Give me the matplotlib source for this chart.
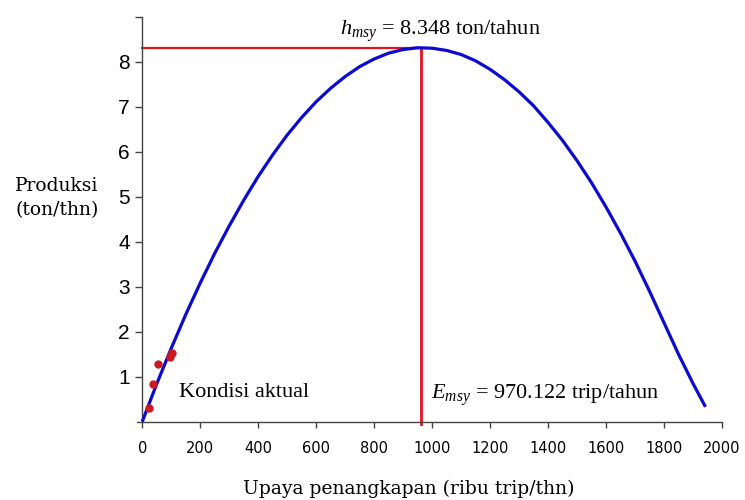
import matplotlib
matplotlib.use("Agg")
import matplotlib.pyplot as plt

# Fitted production curve
effort = [0, 50, 100, 150, 200, 250, 300, 350, 400, 450, 500, 550, 600, 650,
          700, 750, 800, 850, 900, 950, 1000, 1050, 1100, 1150, 1200, 1250,
          1300, 1350, 1400, 1450, 1500, 1550, 1600, 1650, 1700, 1750, 1800,
          1850, 1900, 1943]
production = [0, 0.84, 1.63, 2.38, 3.08, 3.74, 4.35, 4.92, 5.45, 5.93, 6.37,
              6.76, 7.11, 7.41, 7.67, 7.89, 8.06, 8.19, 8.27, 8.31, 8.30,
              8.25, 8.16, 8.02, 7.83, 7.60, 7.33, 7.02, 6.65, 6.25, 5.80,
              5.31, 4.77, 4.19, 3.57, 2.90, 2.20, 1.50, 0.85, 0.33]

# Actual conditions (observed points)
obs_effort = [24, 38, 55, 96, 103]
obs_production = [0.30, 0.83, 1.28, 1.43, 1.53]

# MSY reference lines
e_msy_line = 960
h_msy_line = 8.31

y_ticks = [1, 2, 3, 4, 5, 6, 7, 8, 9]
y_ticklabels = ["1", "2", "3", "4", "5", "6", "7", "8", ""]
x_ticks = [0, 200, 400, 600, 800, 1000, 1200, 1400, 1600, 1800, 2000]
x_ticklabels = [str(v) for v in x_ticks]

plt.rcParams['mathtext.fontset'] = 'custom'
plt.rcParams['mathtext.rm'] = 'Liberation Serif'
plt.rcParams['mathtext.it'] = 'Liberation Serif:italic'

fig = plt.figure(figsize=(7.45, 5.0), dpi=100)
ax = fig.add_axes([0.1839, 0.1566, 0.7852, 0.81])
ax.set_xlim(-18, 2000)
ax.set_ylim(0, 9)

ax.plot(effort, production, color='#0a0ad0', lw=2.3, zorder=3, clip_on=False,
        solid_capstyle='butt', solid_joinstyle='round')
ax.plot(obs_effort, obs_production, 'o', color='#cc1a22', ms=5, zorder=4,
        clip_on=False)

ax.plot([0, e_msy_line], [h_msy_line, h_msy_line], color='#e3141b', lw=1.6,
        zorder=2, clip_on=False)
ax.plot([e_msy_line, e_msy_line], [h_msy_line, -0.05], color='#e3141b', lw=2.0,
        zorder=2, clip_on=False)

for s in ['top', 'right']:
    ax.spines[s].set_visible(False)
ax.spines['left'].set_position(('data', 0))
for s in ['left', 'bottom']:
    ax.spines[s].set_color('#444444')
    ax.spines[s].set_linewidth(1.0)

ax.set_yticks(y_ticks)
ax.set_yticklabels(y_ticklabels, fontfamily='Liberation Sans', fontsize=15)
ax.set_xticks(x_ticks)
ax.set_xticklabels(x_ticklabels, fontfamily='DejaVu Sans', fontsize=10.5)
ax.tick_params(axis='y', length=5, width=1, color='#444444', pad=4)
ax.tick_params(axis='x', length=4, width=1, color='#444444', pad=10)

serif = 'Liberation Serif'
fig.text(340 / 745, 1 - 35 / 500, r'$h_{msy}$ = 8.348 ton/tahun',
         fontfamily=serif, fontsize=16, ha='left', va='baseline')
fig.text(431 / 745, 1 - 399 / 500, r'$E_{msy}$ = 970.122 trip/tahun',
         fontfamily=serif, fontsize=16, ha='left', va='baseline')
fig.text(179 / 745, 1 - 397 / 500, 'Kondisi aktual',
         fontfamily=serif, fontsize=16, ha='left', va='baseline')

fig.text(57 / 745, 1 - 198 / 500, 'Produksi\n(ton/thn)', fontfamily='DejaVu Serif',
         fontsize=13.5, ha='center', va='center', linespacing=1.45)
fig.text(409 / 745, 1 - 489 / 500, 'Upaya penangkapan (ribu trip/thn)',
         fontfamily='DejaVu Serif', fontsize=13.5, ha='center', va='center')

fig.savefig('out.png', dpi=100)
